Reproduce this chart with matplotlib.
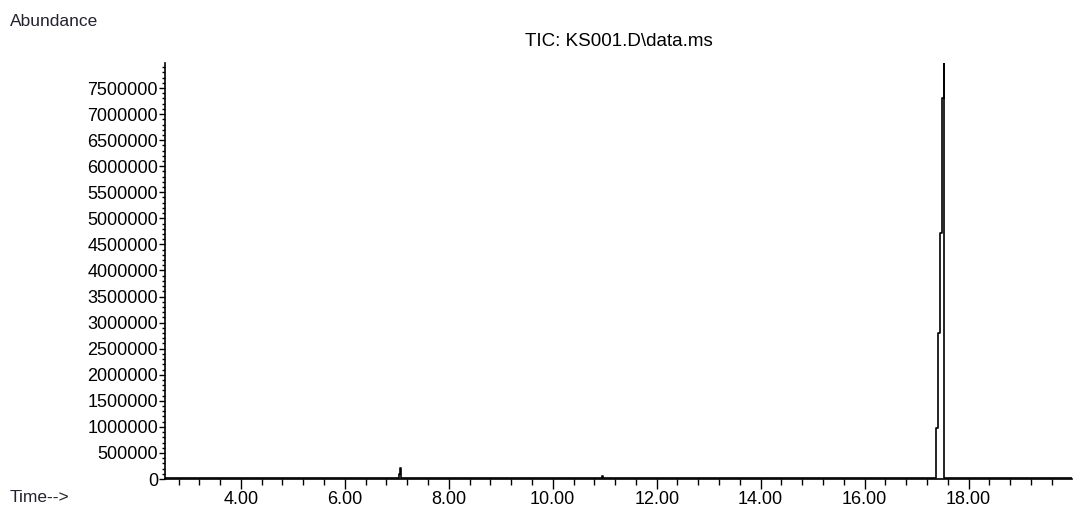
import matplotlib.pyplot as plt
from matplotlib.ticker import MultipleLocator, FormatStrFormatter

# retention time (min) and abundance
time_min = [2.54, 7.03, 7.05, 7.07, 7.09, 10.93, 10.95, 10.97,
            17.36, 17.38, 17.42, 17.455, 17.49, 17.52, 17.535, 19.99]
abundance = [12000, 12000, 100000, 210000, 12000, 12000, 50000, 12000,
             12000, 980000, 2800000, 4720000, 7300000, 8100000, 12000, 12000]

title = r"TIC: KS001.D\data.ms"

plt.rcParams['font.family'] = ['Liberation Sans', 'DejaVu Sans']

fig = plt.figure(figsize=(10.88, 5.16), dpi=100)
ax = fig.add_axes([165/1088, 1 - 479/516, (1072-165)/1088, (479-63)/516])

ax.plot(time_min, abundance, color='black', lw=1.2, drawstyle='steps-post')

ax.set_xlim(2.54, 19.99)
ax.set_ylim(0, 7.98e6)
ax.spines['top'].set_visible(False)
ax.spines['right'].set_visible(False)
ax.spines['left'].set_linewidth(1.2)
ax.spines['bottom'].set_linewidth(1.2)

ax.xaxis.set_major_locator(MultipleLocator(2))
ax.xaxis.set_minor_locator(MultipleLocator(0.4))
ax.xaxis.set_major_formatter(FormatStrFormatter('%.2f'))
ax.yaxis.set_major_locator(MultipleLocator(500000))
ax.yaxis.set_minor_locator(MultipleLocator(100000))
ax.yaxis.set_major_formatter(FormatStrFormatter('%d'))

ax.tick_params(axis='x', which='major', length=7, width=1, labelsize=13, pad=2)
ax.tick_params(axis='x', which='minor', length=4, width=1)
ax.tick_params(axis='y', which='major', length=4, width=1, labelsize=13, pad=1)
ax.tick_params(axis='y', which='minor', length=2, width=1)

ax.set_title(title, fontsize=13.5, pad=12)

fig.text(10/1088, 1 - 22/516, "Abundance", fontsize=12.5, va='center', color='#222233')
fig.text(10/1088, 1 - 497/516, "Time-->", fontsize=12.5, va='center', color='#222233')

fig.savefig('out.png', dpi=100)
